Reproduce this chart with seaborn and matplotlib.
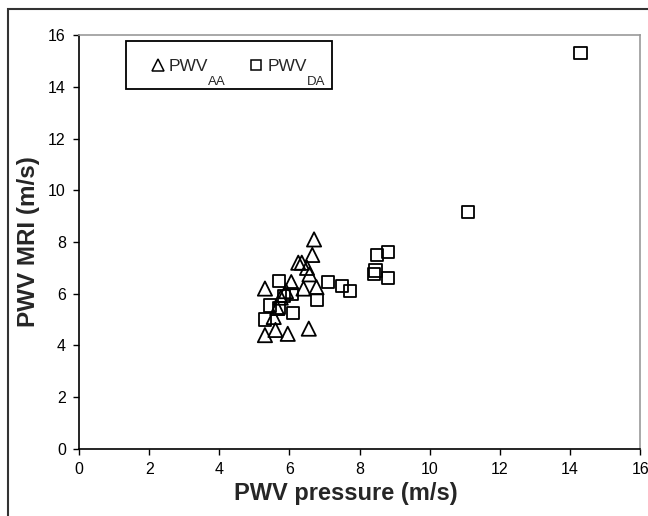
import pandas as pd
import seaborn as sns
from matplotlib import pyplot as plt
from matplotlib.patches import Rectangle
from matplotlib.lines import Line2D

# PWV AA (triangles)
aa_pressure = [6.7, 6.65, 6.25, 6.35, 6.5, 6.57, 6.05, 5.3, 6.4, 6.77,
               5.9, 5.75, 5.65, 5.55, 5.3, 5.6, 5.95, 6.55]
aa_mri = [8.1, 7.5, 7.2, 7.2, 7.0, 6.75, 6.45, 6.2, 6.2, 6.25,
          6.1, 5.85, 5.45, 5.1, 4.4, 4.6, 4.45, 4.65]

# PWV DA (squares)
da_pressure = [14.3, 11.1, 8.8, 8.5, 8.45, 8.4, 8.8, 7.1, 7.5, 7.72,
               6.78, 5.7, 6.07, 5.85, 5.45, 5.7, 6.1, 5.3]
da_mri = [15.3, 9.15, 7.6, 7.5, 6.9, 6.75, 6.6, 6.45, 6.3, 6.1,
          5.75, 6.5, 6.0, 5.9, 5.55, 5.45, 5.25, 5.0]

df_aa = pd.DataFrame({"pressure": aa_pressure, "mri": aa_mri})
df_da = pd.DataFrame({"pressure": da_pressure, "mri": da_mri})

sns.set_style("white")
plt.rcParams['font.family'] = ['Liberation Sans', 'DejaVu Sans']

fig = plt.figure(figsize=(6.48, 5.16), dpi=100)
ax = fig.add_axes([0.122, 0.13, 0.866, 0.802])

sns.scatterplot(data=df_aa, x="pressure", y="mri", marker="^", s=105,
                facecolor="none", edgecolor="black", linewidth=1.3, ax=ax)
sns.scatterplot(data=df_da, x="pressure", y="mri", marker="s", s=78,
                facecolor="none", edgecolor="black", linewidth=1.3, ax=ax)

ax.set_xlim(0, 16)
ax.set_ylim(0, 16)
ax.set_xticks(range(0, 17, 2))
ax.set_yticks(range(0, 17, 2))
ax.tick_params(direction="out", length=4.5, width=1, colors="black",
               labelsize=11.5, bottom=True, left=True, pad=5)
for s in ["left", "bottom"]:
    ax.spines[s].set_color("black")
    ax.spines[s].set_linewidth(1.2)
for s in ["top", "right"]:
    ax.spines[s].set_color("#999999")
    ax.spines[s].set_linewidth(1.2)

ax.set_xlabel("PWV pressure (m/s)", fontsize=17, fontweight="bold")
ax.set_ylabel("PWV MRI (m/s)", fontsize=17.5, fontweight="bold")
ax.xaxis.set_label_coords(0.476, -0.08)
ax.yaxis.set_label_coords(-0.07, 0.5)

# legend: box drawn separately, subscripts placed under the labels
ax.add_patch(Rectangle((0.084, 0.869), 0.367, 0.116, transform=ax.transAxes,
                       fill=False, edgecolor="black", linewidth=1.3, zorder=5))
handles = [
    Line2D([], [], marker="^", linestyle="none", markersize=8,
           markerfacecolor="none", markeredgecolor="black", markeredgewidth=1.1),
    Line2D([], [], marker="s", linestyle="none", markersize=7,
           markerfacecolor="none", markeredgecolor="black", markeredgewidth=1.1),
]
leg = ax.legend(handles, ["PWV", "PWV"], loc="center left",
                bbox_to_anchor=(0.109, 0.925), ncol=2, fontsize=12.5,
                frameon=False, handletextpad=0.15, columnspacing=2.25,
                handlelength=1.0, borderpad=0.5, borderaxespad=0)

fig.canvas.draw()
inv = fig.transFigure.inverted()
for txt, sub in zip(leg.get_texts(), ["AA", "DA"]):
    bb = txt.get_window_extent()
    x0, y0 = inv.transform((bb.x1, bb.y0))
    fig.text(x0, y0 - 0.004, sub, ha="left", va="top", fontsize=9.5)

# outer frame around the whole chart
fig.patches.append(Rectangle((0.012, -0.5), 1.5, 1.5 - 0.018, transform=fig.transFigure,
                             fill=False, edgecolor="#333333", linewidth=1.5))

fig.savefig("out.png", dpi=100)
